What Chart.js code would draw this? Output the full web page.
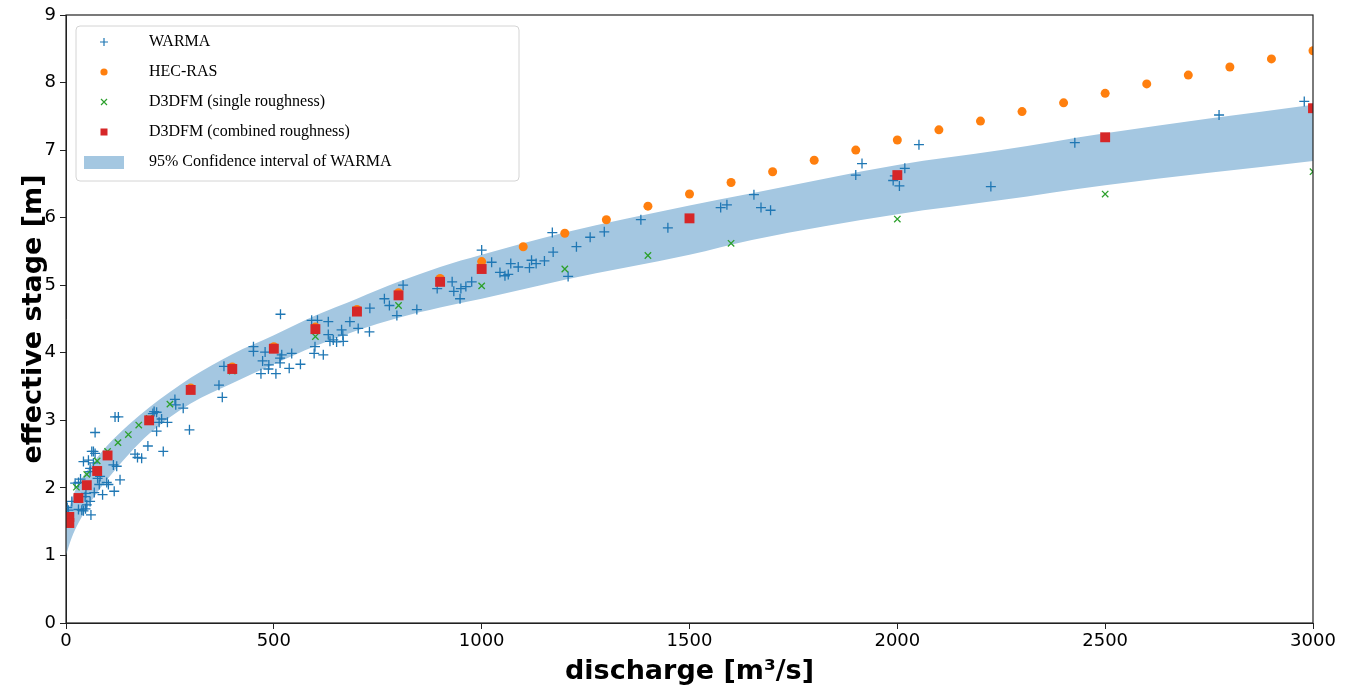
<!DOCTYPE html>
<html>
<head>
<meta charset="utf-8">
<script src="https://cdn.jsdelivr.net/npm/chart.js@4.4.1/dist/chart.umd.min.js"></script>
<style>
html, body { margin: 0; background: #fff; }
#wrap { width: 1354px; height: 691px; }
</style>
</head>
<body>
<div id="wrap"><canvas id="myChart"></canvas></div>
<script>

// WARMA observations (discharge, stage)
const warmaQ = [3, 6, 14, 22, 30, 35, 30, 38, 42, 47, 50, 46, 48, 58, 60, 68, 80, 88, 98, 102, 116, 130, 76, 82,
    42, 54, 58, 58, 62, 66, 70, 66, 70, 114, 122, 118, 126, 166, 172, 182, 197, 209, 212, 218, 218, 224, 230, 234,
    244, 262, 264, 282, 297, 368, 376, 380,
    451, 451, 469, 473, 479, 487, 488, 505, 515, 515, 519, 516, 537, 543, 564, 591, 605, 599, 597, 619, 631, 631,
    635, 643, 651, 663, 666, 667, 683, 703, 730, 731, 766, 778, 796, 811, 844, 893, 929, 933, 950, 962, 948, 976,
    1000, 1024, 1044, 1056, 1064, 1070, 1088, 1115, 1120, 1131, 1151, 1172, 1170, 1208, 1228, 1261, 1295,
    1383, 1448, 1575, 1590, 1655, 1672, 1695, 1900, 1915, 1990, 2005, 1994, 2018, 2052, 2225, 2427, 2774, 2979];
const warmaH = [1.71, 1.67, 1.80, 2.07, 2.08, 2.13, 1.68, 1.67, 1.66, 1.69, 1.75, 1.87, 1.92, 1.80, 1.60, 1.93, 2.05, 1.90, 2.08, 2.05, 1.95, 2.12, 2.14, 2.17,
    2.39, 2.41, 2.29, 2.24, 2.54, 2.54, 2.51, 2.37, 2.82, 2.34, 2.32, 3.05, 3.05, 2.50, 2.45, 2.44, 2.62, 3.10, 3.13, 3.12, 2.84, 2.97, 3.02, 2.54,
    2.97, 3.31, 3.23, 3.18, 2.86, 3.52, 3.34, 3.80,
    4.09, 4.02, 3.69, 3.88, 4.01, 3.76, 3.82, 3.69, 3.85, 3.92, 3.97, 4.57, 3.77, 3.99, 3.83, 4.48, 4.48, 4.09, 3.99, 3.97, 4.46, 4.27,
    4.17, 4.19, 4.16, 4.34, 4.26, 4.17, 4.46, 4.36, 4.31, 4.66, 4.80, 4.70, 4.55, 5.00, 4.64, 4.95, 5.05, 4.91, 4.95, 4.98, 4.80, 5.05,
    5.52, 5.34, 5.19, 5.14, 5.16, 5.32, 5.27, 5.26, 5.37, 5.32, 5.36, 5.49, 5.78, 5.13, 5.57, 5.71, 5.79,
    5.97, 5.85, 6.15, 6.19, 6.34, 6.15, 6.11, 6.63, 6.80, 6.55, 6.47, 6.62, 6.73, 7.08, 6.46, 7.11, 7.52, 7.72];

// HEC-RAS
const hecQ = [300, 400, 500, 600, 700, 800, 900, 1000, 1100, 1200, 1300, 1400, 1500, 1600, 1700, 1800, 1900, 2000,
    2100, 2200, 2300, 2400, 2500, 2600, 2700, 2800, 2900, 3000];
const hecH = [3.48, 3.79, 4.09, 4.38, 4.64, 4.89, 5.10, 5.35, 5.57, 5.77, 5.97, 6.17, 6.35, 6.52, 6.68, 6.85, 7.00, 7.15,
    7.30, 7.43, 7.57, 7.70, 7.84, 7.98, 8.11, 8.23, 8.35, 8.47];

// D3DFM single roughness
const singleQ = [25, 50, 75, 100, 125, 150, 175, 200, 250, 400, 600, 800, 1000, 1200, 1400, 1600, 2000, 2500, 3000];
const singleH = [2.01, 2.20, 2.40, 2.54, 2.67, 2.79, 2.93, 3.03, 3.24, 3.73, 4.24, 4.70, 4.99, 5.24, 5.44, 5.62, 5.98, 6.35, 6.68];

// D3DFM combined roughness
const combQ = [8, 8, 30, 50, 75, 100, 200, 300, 400, 500, 600, 700, 800, 900, 1000, 1500, 2000, 2500, 3000];
const combH = [1.57, 1.48, 1.85, 2.04, 2.25, 2.48, 3.00, 3.45, 3.76, 4.06, 4.35, 4.61, 4.85, 5.05, 5.24, 5.99, 6.63, 7.19, 7.62];

// 95% confidence band of WARMA
const bandQ = [0, 10, 25, 50, 75, 100, 150, 200, 300, 400, 500, 600, 700, 800, 900, 1000, 1100, 1200, 1500, 1650, 2000, 2250, 2500, 3000];
const bandUpper = [1.45, 1.75, 2.00, 2.25, 2.45, 2.63, 2.93, 3.19, 3.63, 3.98, 4.26, 4.55, 4.80, 5.05, 5.27, 5.45, 5.62, 5.78, 6.18, 6.36, 6.78, 7.00, 7.25, 7.67];
const bandLower = [1.00, 1.20, 1.42, 1.70, 1.93, 2.13, 2.49, 2.80, 3.25, 3.55, 3.83, 4.10, 4.33, 4.52, 4.67, 4.80, 4.94, 5.08, 5.45, 5.67, 6.05, 6.26, 6.48, 6.84];

const xTickLabels = ['0', '500', '1000', '1500', '2000', '2500', '3000'];

const legendLabels = ['WARMA', 'HEC-RAS', 'D3DFM (single roughness)', 'D3DFM (combined roughness)', '95% Confidence interval of WARMA'];

function pts(xs, ys) {
    return xs.map((x, i) => ({x: x, y: ys[i]}));
}

const bandColor = 'rgb(164,199,225)';

const frameAndLegend = {
    id: 'frameAndLegend',
    afterDraw(chart) {
        const ctx = chart.ctx, a = chart.chartArea;
        ctx.save();
        ctx.strokeStyle = '#222';
        ctx.lineWidth = 1.2;
        ctx.strokeRect(a.left, a.top, a.right - a.left, a.bottom - a.top);

        // legend box, top left inside the plot
        const bx = a.left + 10, by = a.top + 11, bw = 443, bh = 155;
        ctx.fillStyle = 'rgba(255,255,255,0.92)';
        ctx.strokeStyle = '#d4d4d4';
        ctx.lineWidth = 1;
        ctx.beginPath();
        ctx.roundRect(bx, by, bw, bh, 4);
        ctx.fill();
        ctx.stroke();

        ctx.font = '16px "Liberation Serif"';
        ctx.textBaseline = 'middle';
        legendLabels.forEach((t, i) => {
            const cy = by + 16 + i * 30;
            const mx = bx + 28;
            if (i === 0) {
                ctx.strokeStyle = '#1f77b4'; ctx.lineWidth = 1.2;
                ctx.beginPath(); ctx.moveTo(mx - 4, cy); ctx.lineTo(mx + 4, cy);
                ctx.moveTo(mx, cy - 4); ctx.lineTo(mx, cy + 4); ctx.stroke();
            } else if (i === 1) {
                ctx.fillStyle = '#ff7f0e';
                ctx.beginPath(); ctx.arc(mx, cy, 3.6, 0, Math.PI * 2); ctx.fill();
            } else if (i === 2) {
                ctx.strokeStyle = '#2ca02c'; ctx.lineWidth = 1.2;
                ctx.beginPath(); ctx.moveTo(mx - 3, cy - 3); ctx.lineTo(mx + 3, cy + 3);
                ctx.moveTo(mx - 3, cy + 3); ctx.lineTo(mx + 3, cy - 3); ctx.stroke();
            } else if (i === 3) {
                ctx.fillStyle = '#d62728';
                ctx.fillRect(mx - 3.5, cy - 3.5, 7, 7);
            } else {
                ctx.fillStyle = bandColor;
                ctx.fillRect(bx + 8, cy - 6, 40, 13);
            }
            ctx.fillStyle = '#000';
            ctx.fillText(t, bx + 73, cy);
        });
        ctx.restore();
    }
};

window.onload = function () {

    const ctx = document.getElementById('myChart');

    const tickFont = {family: '"DejaVu Sans"', size: 18};
    const titleFont = {family: '"DejaVu Sans"', size: 27, weight: 'bold'};

    const myChart = new Chart(ctx, {
        type: 'scatter',
        data: {
            datasets: [
                {
                    label: 'D3DFM (combined roughness)',
                    data: pts(combQ, combH),
                    pointStyle: 'rect',
                    pointRadius: 7,
                    backgroundColor: '#d62728',
                    borderColor: '#d62728',
                    borderWidth: 0,
                    order: 1
                },
                {
                    label: 'D3DFM (single roughness)',
                    data: pts(singleQ, singleH),
                    pointStyle: 'crossRot',
                    pointRadius: 4.5,
                    borderColor: '#2ca02c',
                    borderWidth: 1.3,
                    order: 2
                },
                {
                    label: 'HEC-RAS',
                    data: pts(hecQ, hecH),
                    pointStyle: 'circle',
                    pointRadius: 4.5,
                    backgroundColor: '#ff7f0e',
                    borderColor: '#ff7f0e',
                    borderWidth: 0,
                    order: 3
                },
                {
                    label: 'WARMA',
                    data: pts(warmaQ, warmaH),
                    pointStyle: 'cross',
                    pointRadius: 5,
                    borderColor: '#1f77b4',
                    borderWidth: 1.3,
                    order: 4
                },
                {
                    type: 'line',
                    label: 'upper',
                    data: pts(bandQ, bandUpper),
                    borderWidth: 0,
                    pointRadius: 0,
                    cubicInterpolationMode: 'monotone',
                    fill: false,
                    order: 10
                },
                {
                    type: 'line',
                    label: '95% Confidence interval of WARMA',
                    data: pts(bandQ, bandLower),
                    borderWidth: 0,
                    pointRadius: 0,
                    cubicInterpolationMode: 'monotone',
                    backgroundColor: bandColor,
                    fill: '-1',
                    order: 10
                }
            ]
        },
        options: {
            responsive: true,
            maintainAspectRatio: false,
            animation: false,
            layout: {padding: {top: 15, right: 41, left: 0, bottom: 0}},
            scales: {
                x: {
                    type: 'linear',
                    min: 0,
                    max: 3000,
                    afterFit: function (s) { s.height = 68; },
                    ticks: {
                        stepSize: 500, color: '#000', font: tickFont, padding: 2, maxRotation: 0,
                        callback: function (v, i) { return xTickLabels[i]; }
                    },
                    grid: {drawOnChartArea: false, color: '#222', tickLength: 6},
                    border: {color: '#222'},
                    title: {display: true, text: 'discharge [m³/s]', color: '#000', font: titleFont, padding: {top: 0, bottom: 3}}
                },
                y: {
                    min: 0,
                    max: 9,
                    afterFit: function (s) { s.width = 66; },
                    ticks: {stepSize: 1, color: '#000', font: tickFont, padding: 4},
                    grid: {drawOnChartArea: false, color: '#222', tickLength: 6},
                    border: {color: '#222'},
                    title: {display: true, text: 'effective stage [m]', color: '#000', font: titleFont, padding: {top: 18, bottom: 0}}
                }
            },
            plugins: {
                legend: {display: false},
                tooltip: {enabled: false}
            }
        },
        plugins: [frameAndLegend]
    });

    myChart.update();
};
</script>
</body>
</html>
